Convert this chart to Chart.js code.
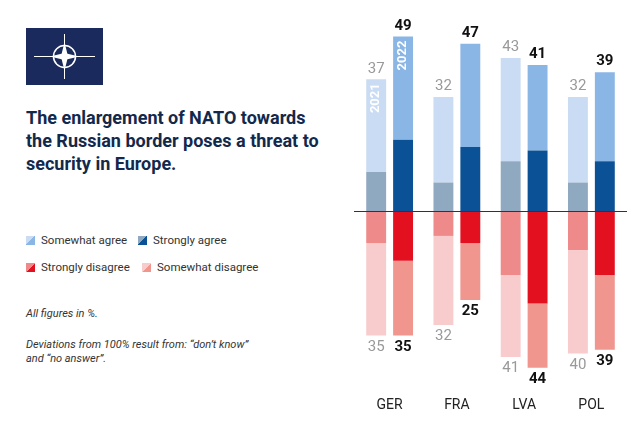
<!DOCTYPE html>
<html>
<head>
<meta charset="utf-8">
<script src="https://cdn.jsdelivr.net/npm/chart.js@4"></script>
<style>
  body { margin: 0; width: 640px; height: 430px; background: #fff; font-family: Roboto, sans-serif; position: relative; overflow: hidden; }
  #flag { position: absolute; left: 26px; top: 28px; width: 77px; height: 57px; background: #1b2a5c; }
  #title { position: absolute; left: 26px; top: 106px; width: 300px; font-size: 18px; font-weight: bold; color: #13294b; line-height: 23px; }
  .leg { position: absolute; font-size: 11.5px; color: #333; }
  .sq { display: inline-block; width: 9px; height: 9px; margin-right: 6px; vertical-align: -1px; }
  .note { position: absolute; left: 26px; font-size: 11px; font-style: italic; color: #333; line-height: 14px; }
  #wrap { position: absolute; left: 340px; top: 0; width: 300px; height: 430px; }
</style>
</head>
<body>
<div id="flag">
  <svg width="77" height="57" viewBox="0 0 77 57">
    <line x1="8" y1="28.5" x2="69" y2="28.5" stroke="#fff" stroke-width="1"/>
    <line x1="38.5" y1="6" x2="38.5" y2="51" stroke="#fff" stroke-width="1"/>
    <circle cx="38.5" cy="28.5" r="11" fill="none" stroke="#fff" stroke-width="1.5"/>
    <polygon points="38.5,14 42,28.5 38.5,43 35,28.5" fill="#fff"/>
    <polygon points="24,28.5 38.5,25 53,28.5 38.5,32" fill="#fff"/>
  </svg>
</div>
<div id="title">The enlargement of NATO towards the Russian border poses a threat to security in Europe.</div>
<div class="leg" style="left:26px;top:233px"><span class="sq" style="background:linear-gradient(135deg,#c9dcf3 50%,#8ab6e6 50%)"></span>Somewhat agree</div>
<div class="leg" style="left:138px;top:233px"><span class="sq" style="background:linear-gradient(135deg,#8fa9c0 50%,#0b5196 50%)"></span>Strongly agree</div>
<div class="leg" style="left:26px;top:260px"><span class="sq" style="background:linear-gradient(135deg,#ee8a8a 50%,#e3101f 50%)"></span>Strongly disagree</div>
<div class="leg" style="left:142px;top:260px"><span class="sq" style="background:linear-gradient(135deg,#f8cccc 50%,#f0968f 50%)"></span>Somewhat disagree</div>
<div class="note" style="top:307px">All figures in %.</div>
<div class="note" style="top:338px">Deviations from 100% result from: “don’t know”<br>and “no answer”.</div>
<div id="wrap"><canvas id="c"></canvas></div>
<script>
const countries = ['GER', 'FRA', 'LVA', 'POL'];
// 2021
const strongAgree21 = [11, 8, 14, 8];
const someAgree21 = [26, 24, 29, 24];
const strongDis21 = [9, 7, 18, 11];
const someDis21 = [26, 25, 23, 29];
const agreeTotal21 = [37, 32, 43, 32];
const disTotal21 = [35, 32, 41, 40];
// 2022
const strongAgree22 = [20, 18, 17, 14];
const someAgree22 = [29, 29, 24, 25];
const strongDis22 = [14, 9, 26, 18];
const someDis22 = [21, 16, 18, 21];
const agreeTotal22 = [49, 47, 41, 39];
const disTotal22 = [35, 25, 44, 39];

const neg = a => a.map(v => -v);

function ds(data, color, stack) {
    return { data: data, backgroundColor: color, stack: stack, barPercentage: 0.74, categoryPercentage: 0.8 };
}

// Dibujar totales, etiquetas de año y línea base
const labelsPlugin = {
    id: 'labels',
    afterDatasetsDraw(chart) {
        const ctx = chart.ctx;
        const y = chart.scales.y;
        const area = chart.chartArea;
        ctx.save();
        ctx.strokeStyle = '#333';
        ctx.lineWidth = 1;
        ctx.beginPath();
        ctx.moveTo(area.left - 2, Math.round(y.getPixelForValue(0)) + 0.5);
        ctx.lineTo(area.right + 2, Math.round(y.getPixelForValue(0)) + 0.5);
        ctx.stroke();
        ctx.textAlign = 'center';
        const m21 = chart.getDatasetMeta(1), m22 = chart.getDatasetMeta(5);
        countries.forEach((c, i) => {
            const x21 = m21.data[i].x, x22 = m22.data[i].x;
            ctx.font = '15px Roboto';
            ctx.fillStyle = '#999';
            ctx.textBaseline = 'bottom';
            ctx.fillText(agreeTotal21[i], x21, y.getPixelForValue(agreeTotal21[i]) - 3);
            ctx.textBaseline = 'top';
            ctx.fillText(disTotal21[i], x21, y.getPixelForValue(-disTotal21[i]) + 4);
            ctx.font = 'bold 15px Roboto';
            ctx.fillStyle = '#111';
            ctx.textBaseline = 'bottom';
            ctx.fillText(agreeTotal22[i], x22, y.getPixelForValue(agreeTotal22[i]) - 3);
            ctx.textBaseline = 'top';
            ctx.fillText(disTotal22[i], x22, y.getPixelForValue(-disTotal22[i]) + 4);
            ctx.font = '14px Roboto';
            ctx.fillStyle = '#222';
            ctx.fillText(c, (x21 + x22) / 2, 398);
        });
        // Años dentro de las barras GER
        ctx.font = 'bold 13px Roboto';
        ctx.fillStyle = '#fff';
        ctx.textAlign = 'right';
        ctx.textBaseline = 'middle';
        [[m21.data[0].x, agreeTotal21[0], '2021'], [m22.data[0].x, agreeTotal22[0], '2022']].forEach(([x, v, t]) => {
            ctx.save();
            ctx.translate(x, y.getPixelForValue(v) + 4);
            ctx.rotate(-Math.PI / 2);
            ctx.fillText(t, 0, 0);
            ctx.restore();
        });
        ctx.restore();
    }
};

new Chart(document.getElementById('c'), {
    type: 'bar',
    data: {
        labels: countries,
        datasets: [
            ds(strongAgree21, '#8fa9c0', '2021'),
            ds(someAgree21, '#c9dcf3', '2021'),
            ds(neg(strongDis21), '#ee8a8a', '2021'),
            ds(neg(someDis21), '#f8cccc', '2021'),
            ds(strongAgree22, '#0b5196', '2022'),
            ds(someAgree22, '#8ab6e6', '2022'),
            ds(neg(strongDis22), '#e3101f', '2022'),
            ds(neg(someDis22), '#f0968f', '2022')
        ]
    },
    options: {
        responsive: true,
        maintainAspectRatio: false,
        animation: false,
        layout: { padding: { left: 16, right: 15, top: 33, bottom: 41 } },
        plugins: { legend: { display: false }, tooltip: { enabled: false } },
        scales: {
            x: { display: false, stacked: true },
            y: { display: false, stacked: true, min: -50, max: 50 }
        }
    },
    plugins: [labelsPlugin]
});
</script>
</body>
</html>
